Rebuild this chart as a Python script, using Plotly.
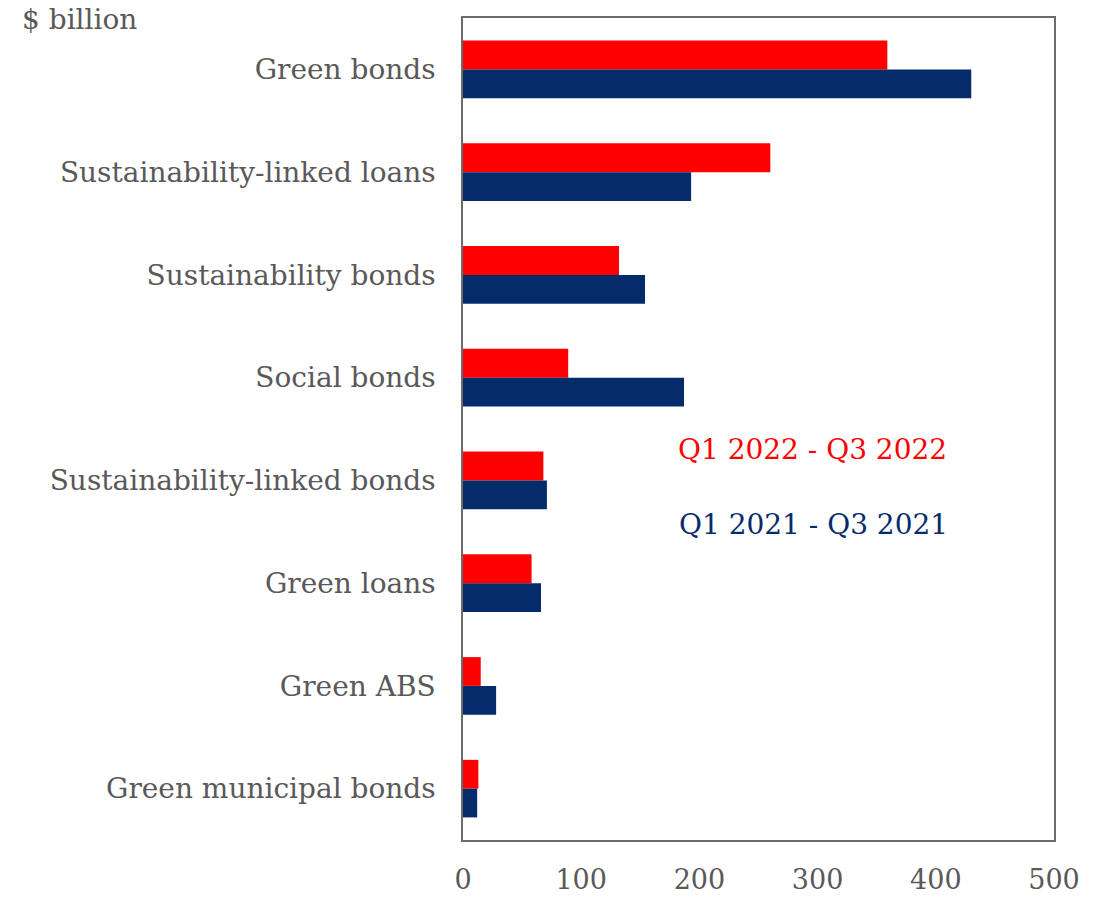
import plotly.graph_objects as go

categories = ["Green bonds", "Sustainability-linked loans", "Sustainability bonds",
              "Social bonds", "Sustainability-linked bonds", "Green loans",
              "Green ABS", "Green municipal bonds"]
q1q3_2022 = [359, 260, 132, 89, 68, 58, 15, 13]
q1q3_2021 = [430, 193, 154, 187, 71, 66, 28, 12]
series_names = ["Q1 2022 - Q3 2022", "Q1 2021 - Q3 2021"]
x_ticks = [0, 100, 200, 300, 400, 500]

RED = "#FF0000"
NAVY = "#062B6B"
GREY = "#595959"
FONT = "DejaVu Serif"
FS = 28

fig = go.Figure()
fig.add_trace(go.Bar(y=categories, x=q1q3_2022, orientation="h", name=series_names[0],
                     marker=dict(color=RED, line=dict(width=0))))
fig.add_trace(go.Bar(y=categories, x=q1q3_2021, orientation="h", name=series_names[1],
                     marker=dict(color=NAVY, line=dict(width=0))))

fig.update_layout(
    width=1110, height=898,
    margin=dict(l=463, r=56, t=18, b=58, autoexpand=False),
    barmode="group", bargap=0.44, bargroupgap=0,
    plot_bgcolor="white", paper_bgcolor="white",
    showlegend=False,
    font=dict(family=FONT, size=FS, color=GREY),
    xaxis=dict(range=[0, 500], tickvals=x_ticks, showgrid=False, zeroline=False,
               showline=True, linecolor="#6b6b6b", linewidth=1.5, mirror=True,
               ticks="", ticklabelstandoff=15, automargin=False,
               tickfont=dict(size=27, color=GREY)),
    yaxis=dict(autorange="reversed", showgrid=False, zeroline=False,
               showline=True, linecolor="#6b6b6b", linewidth=1.5, mirror=True,
               ticks="", ticklabelstandoff=20, automargin=False,
               tickfont=dict(size=FS, color=GREY)),
    annotations=[
        dict(text="$ billion", xref="paper", yref="paper", x=(20-463)/591, y=1 - (20-18)/822,
             xanchor="left", yanchor="middle", showarrow=False,
             font=dict(size=FS, color=GREY, family=FONT)),
        dict(text=series_names[0], xref="paper", yref="paper", x=(812-463)/591, y=1-(449-18)/822,
             xanchor="center", yanchor="middle", showarrow=False,
             font=dict(size=FS, color=RED, family=FONT)),
        dict(text=series_names[1], xref="paper", yref="paper", x=(813-463)/591, y=1-(524-18)/822,
             xanchor="center", yanchor="middle", showarrow=False,
             font=dict(size=FS, color=NAVY, family=FONT)),
    ],
)

fig.write_html("out.html")
